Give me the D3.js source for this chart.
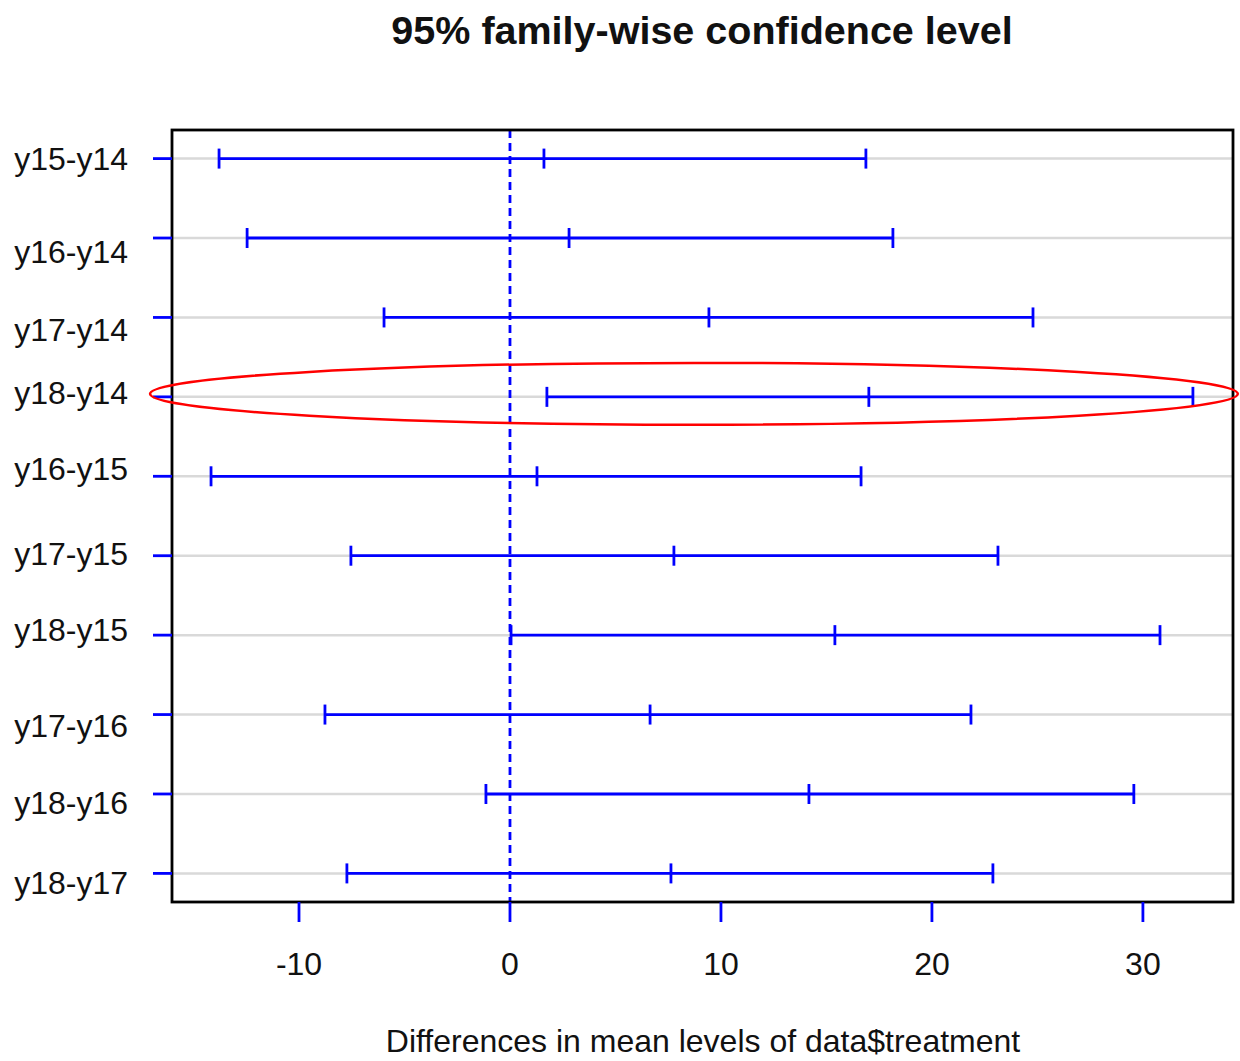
<!DOCTYPE html>
<html><head><meta charset="utf-8">
<script src="https://cdn.jsdelivr.net/npm/d3@7"></script>
<style>body{margin:0;background:#fff}svg{display:block}text{font-family:"Liberation Sans",Arial,sans-serif;fill:#111}</style>
</head><body>
<svg id="c" width="1240" height="1061"></svg>
<script>
const comparisons = ["y15-y14","y16-y14","y17-y14","y18-y14","y16-y15","y17-y15","y18-y15","y17-y16","y18-y16","y18-y17"];
const diff = [1.61, 2.80, 9.43, 17.01, 1.28, 7.77, 15.40, 6.64, 14.17, 7.63];
const lwr  = [-13.79, -12.46, -5.97, 1.75, -14.17, -7.54, 0.05, -8.77, -1.14, -7.73];
const upr  = [16.87, 18.15, 24.79, 32.37, 16.64, 23.13, 30.81, 21.85, 29.57, 22.89];
const xTicks = [-10, 0, 10, 20, 30];
const labelNudge = [0, 14, 12, -4, -7, -2, -5, 11, 9, 9];
const highlighted = "y18-y14";

const svg = d3.select("#c");
const L = 172, R = 1233, T = 130, B = 902;
const n = comparisons.length;
const x = d3.scaleLinear().domain([-16.02, 34.27]).range([L, R]);
const y = d3.scaleLinear().domain([0.64, n + 0.36]).range([T, B]);
const row = i => y(i + 1);
const blue = "#0000ff";

// grid lines
svg.append("g").selectAll("line").data(comparisons).join("line")
  .attr("x1", L).attr("x2", R).attr("y1", (d,i)=>row(i)).attr("y2", (d,i)=>row(i))
  .attr("stroke", "#d9d9d9").attr("stroke-width", 2.5);

// zero line
svg.append("line").attr("x1", x(0)).attr("x2", x(0)).attr("y1", T).attr("y2", B)
  .attr("stroke", blue).attr("stroke-width", 2.8).attr("stroke-dasharray", "8,5");

// intervals
const g = svg.append("g").attr("stroke", blue).attr("stroke-width", 2.8);
comparisons.forEach((c, i) => {
  const yy = row(i);
  g.append("line").attr("x1", x(lwr[i])).attr("x2", x(upr[i])).attr("y1", yy).attr("y2", yy);
  [lwr[i], diff[i], upr[i]].forEach(v => {
    g.append("line").attr("x1", x(v)).attr("x2", x(v)).attr("y1", yy - 10).attr("y2", yy + 10);
  });
});

// frame
svg.append("rect").attr("x", L).attr("y", T).attr("width", R - L).attr("height", B - T)
  .attr("fill", "none").attr("stroke", "#000").attr("stroke-width", 2.8);

// y axis ticks and labels
const ya = svg.append("g");
comparisons.forEach((c, i) => {
  ya.append("line").attr("x1", L - 19).attr("x2", L).attr("y1", row(i)).attr("y2", row(i))
    .attr("stroke", blue).attr("stroke-width", 2.8);
  ya.append("text").attr("x", 128).attr("y", row(i) + labelNudge[i]).attr("dy", "0.35em")
    .attr("text-anchor", "end").attr("font-size", 32).text(c);
});

// x axis ticks and labels
const xa = svg.append("g");
xTicks.forEach(t => {
  xa.append("line").attr("x1", x(t)).attr("x2", x(t)).attr("y1", B).attr("y2", B + 20)
    .attr("stroke", blue).attr("stroke-width", 2.8);
  xa.append("text").attr("x", x(t)).attr("y", 964).attr("dy", "0.35em")
    .attr("text-anchor", "middle").attr("font-size", 32).text(t);
});

// titles
svg.append("text").attr("x", 702).attr("y", 30).attr("dy", "0.35em").attr("text-anchor", "middle")
  .attr("font-size", 39.5).attr("font-weight", "bold").text("95% family-wise confidence level");
svg.append("text").attr("x", 703).attr("y", 1041).attr("dy", "0.35em").attr("text-anchor", "middle")
  .attr("font-size", 32).text("Differences in mean levels of data$treatment");

// highlight ellipse
const hi = comparisons.indexOf(highlighted);
const ex0 = -17.06, ex1 = 34.5;
svg.append("ellipse")
  .attr("cx", (x(ex0) + x(ex1)) / 2).attr("cy", row(hi) - 3)
  .attr("rx", (x(ex1) - x(ex0)) / 2).attr("ry", y(1.39) - y(1))
  .attr("fill", "none").attr("stroke", "#ff0000").attr("stroke-width", 2.5);
</script>
</body></html>
